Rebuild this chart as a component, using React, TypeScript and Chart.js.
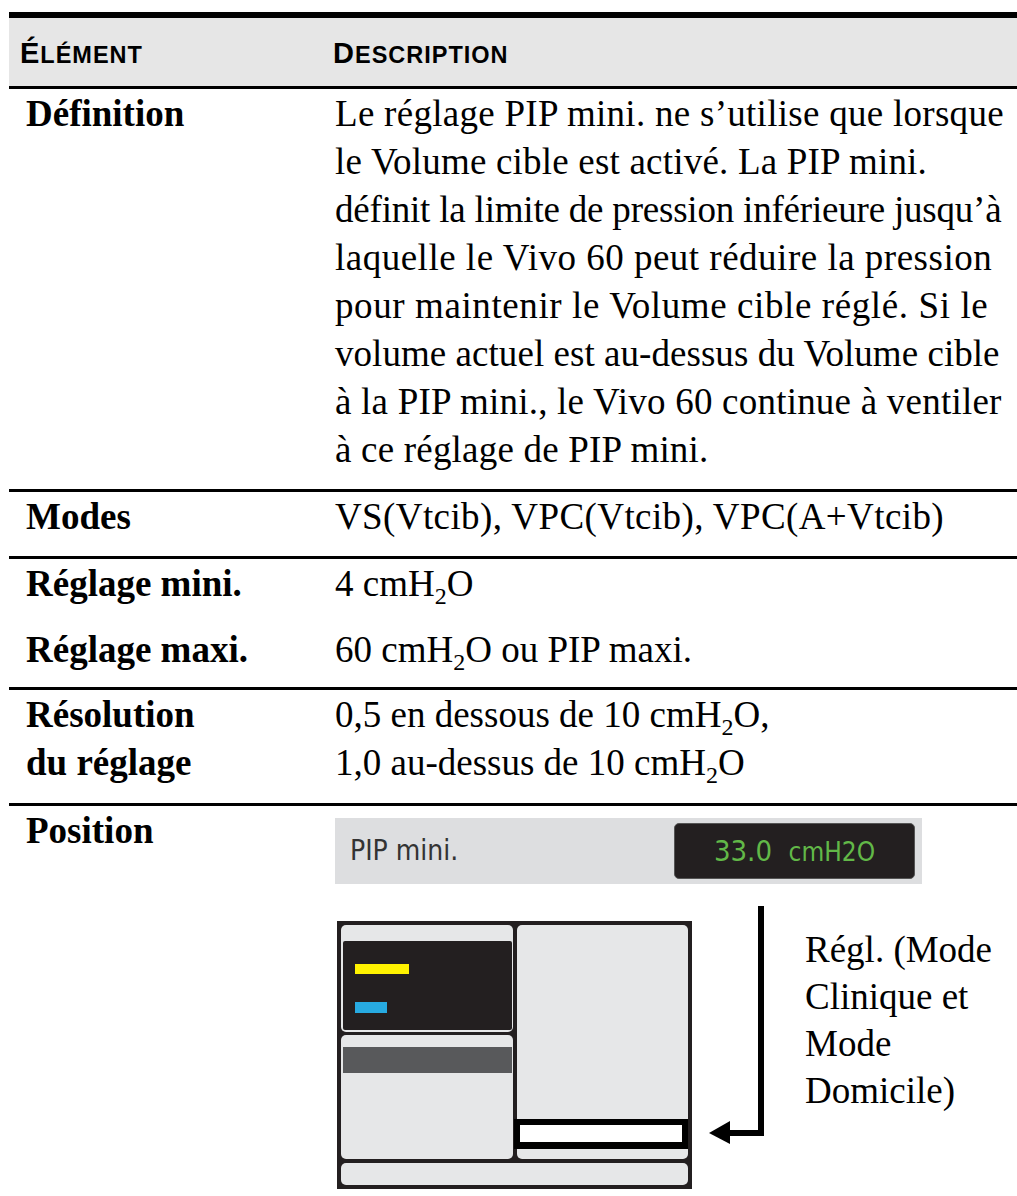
import React, { useEffect, useRef } from "react";
import { Chart, registerables } from "chart.js";

Chart.register(...registerables);

// ---------- content ----------
const headerWords = ["Élément", "Description"];
const rowLabels = ["Définition", "Modes", "Réglage mini.", "Réglage maxi.", "Résolution", "du réglage", "Position"];
const definitionLines = [
  "Le réglage PIP mini. ne s’utilise que lorsque",
  "le Volume cible est activé. La PIP mini.",
  "définit la limite de pression inférieure jusqu’à",
  "laquelle le Vivo 60 peut réduire la pression",
  "pour maintenir le Volume cible réglé. Si le",
  "volume actuel est au-dessus du Volume cible",
  "à la PIP mini., le Vivo 60 continue à ventiler",
  "à ce réglage de PIP mini.",
];
const modesText = "VS(Vtcib), VPC(Vtcib), VPC(A+Vtcib)";
const minSettingText = "4 cmH2O";
const maxSettingText = "60 cmH2O ou PIP maxi.";
const resolutionLines = ["0,5 en dessous de 10 cmH2O,", "1,0 au-dessus de 10 cmH2O"];
const positionLabel = "PIP mini.";
const positionValue = "33.0";
const positionUnit = "cmH2O";
const calloutLines = ["Régl. (Mode", "Clinique et", "Mode", "Domicile)"];

// ---------- screen mock-up geometry (diagram units) ----------
const DIAG_W = 450;
const DIAG_H = 296;
const frameRect = [7, 21, 362, 289];
const lightPanels = [
  [11, 25, 183, 132],
  [11, 135, 183, 259],
  [187, 25, 358, 259],
  [11, 263, 358, 285],
];
const darkInset = [13, 41, 182, 130];
const yellowBar = [25, 64, 79, 74];
const blueBar = [25, 102, 57, 113];
const greyBar = [13, 147, 182, 173];
const highlightOuter = [184, 219, 358, 249];
const highlightInner = [190, 225, 352, 242];
const arrowVertical = [428, 6, 434, 236];
const arrowHorizontal = [398, 230, 434, 236];
const arrowHead = [379, 233, 400, 221, 244];

const SERIF = '"Liberation Serif", "Times New Roman", serif';
const SANS = '"Liberation Sans", Arial, sans-serif';
const SCREEN_FONT = '"DejaVu Sans Condensed", "Liberation Sans Narrow", "DejaVu Sans", sans-serif';

function chem(s: string) {
  const parts = s.split("H2O");
  const out: any[] = [];
  parts.forEach((p, i) => {
    out.push(<React.Fragment key={"t" + i}>{p}</React.Fragment>);
    if (i < parts.length - 1) {
      out.push(
        <React.Fragment key={"c" + i}>
          H
          <span style={{ fontSize: 24, position: "relative", top: 8, lineHeight: 0 }}>2</span>O
        </React.Fragment>
      );
    }
  });
  return out;
}

function smallCaps(word: string) {
  return (
    <>
      <span style={{ fontSize: 29 }}>{word[0].toUpperCase()}</span>
      <span style={{ fontSize: 23.5 }}>{word.slice(1).toUpperCase()}</span>
    </>
  );
}

const Line = ({ y, h = 3 }: { y: number; h?: number }) => (
  <div style={{ position: "absolute", left: 9, right: 0, top: y, height: h, background: "#000" }} />
);

const TextBlock = ({ x, top, lines, bold = false, lh = 48, tracking = [] }: any) => (
  <div
    style={{
      position: "absolute",
      left: x,
      top,
      fontFamily: SERIF,
      fontSize: 37,
      lineHeight: lh + "px",
      fontWeight: bold ? 700 : 400,
      color: "#000",
    }}
  >
    {lines.map((l: string, i: number) => (
      <div key={i} style={{ whiteSpace: "nowrap", letterSpacing: tracking[i] || 0 }}>
        {chem(l)}
      </div>
    ))}
  </div>
);

function ScreenDiagram() {
  const ref = useRef<HTMLCanvasElement | null>(null);
  useEffect(() => {
    if (!ref.current) return;
    const drawPlugin = {
      id: "screenMock",
      afterDraw(chart: any) {
        const ctx = chart.ctx as CanvasRenderingContext2D;
        const xs = chart.scales.x;
        const ys = chart.scales.y;
        const px = (v: number) => xs.getPixelForValue(v);
        const py = (v: number) => ys.getPixelForValue(v);
        const rect = (r: number[], color: string, radius = 0) => {
          const x0 = px(r[0]);
          const y0 = py(r[1]);
          const w = px(r[2]) - x0;
          const h = py(r[3]) - y0;
          ctx.fillStyle = color;
          ctx.beginPath();
          if (radius > 0 && (ctx as any).roundRect) (ctx as any).roundRect(x0, y0, w, h, radius);
          else ctx.rect(x0, y0, w, h);
          ctx.fill();
        };
        ctx.save();
        rect(frameRect, "#231f20");
        lightPanels.forEach((p) => rect(p, "#e6e7e8", 5));
        rect(darkInset, "#231f20", 2);
        rect(yellowBar, "#fff200");
        rect(blueBar, "#27aae1");
        rect(greyBar, "#58595b");
        rect(highlightOuter, "#000000");
        rect(highlightInner, "#ffffff");
        rect(arrowVertical, "#000000");
        rect(arrowHorizontal, "#000000");
        ctx.fillStyle = "#000";
        ctx.beginPath();
        ctx.moveTo(px(arrowHead[0]), py(arrowHead[1]));
        ctx.lineTo(px(arrowHead[2]), py(arrowHead[3]));
        ctx.lineTo(px(arrowHead[2]), py(arrowHead[4]));
        ctx.closePath();
        ctx.fill();
        ctx.restore();
      },
    };
    const chart = new Chart(ref.current, {
      type: "scatter",
      data: { datasets: [] },
      options: {
        animation: false,
        responsive: false,
        maintainAspectRatio: false,
        events: [],
        layout: { padding: 0 },
        plugins: { legend: { display: false }, tooltip: { enabled: false }, title: { display: false } },
        scales: {
          x: { type: "linear", min: 0, max: DIAG_W, display: false },
          y: { type: "linear", min: 0, max: DIAG_H, reverse: true, display: false },
        },
      },
      plugins: [drawPlugin],
    } as any);
    return () => chart.destroy();
  }, []);
  return (
    <canvas
      ref={ref}
      width={DIAG_W}
      height={DIAG_H}
      style={{ position: "absolute", left: 330, top: 900, width: DIAG_W, height: DIAG_H }}
    />
  );
}

const headerStyle: any = {
  position: "absolute",
  top: 33,
  fontFamily: SANS,
  fontWeight: 700,
  lineHeight: "40px",
  color: "#000",
  whiteSpace: "nowrap",
  letterSpacing: 1,
};

export default function App() {
  return (
    <div
      style={{
        position: "absolute",
        left: 0,
        top: 0,
        width: 1017,
        height: 1196,
        background: "#fff",
        overflow: "hidden",
      }}
    >
      {/* header */}
      <div style={{ position: "absolute", left: 9, right: 0, top: 12, height: 6, background: "#000" }} />
      <div style={{ position: "absolute", left: 9, right: 0, top: 18, height: 68, background: "#e6e6e6" }} />
      <Line y={86} />
      <div style={{ ...headerStyle, left: 20 }}>{smallCaps(headerWords[0])}</div>
      <div style={{ ...headerStyle, left: 333 }}>{smallCaps(headerWords[1])}</div>

      {/* Définition */}
      <TextBlock x={26} top={89.5} lines={[rowLabels[0]]} bold />
      <TextBlock
        x={335}
        top={89.5}
        lines={definitionLines}
        tracking={[0.28, 0.2, -0.2, 0.5, 0.6, 0.05, 0.22, 0.2]}
      />
      <Line y={489} />

      {/* Modes */}
      <TextBlock x={26} top={492.5} lines={[rowLabels[1]]} bold />
      <TextBlock x={335} top={492.5} lines={[modesText]} tracking={[0.4]} />
      <Line y={556} />

      {/* Réglage mini / maxi */}
      <TextBlock x={26} top={559.5} lines={[rowLabels[2]]} bold />
      <TextBlock x={335} top={559.5} lines={[minSettingText]} />
      <TextBlock x={26} top={625.5} lines={[rowLabels[3]]} bold />
      <TextBlock x={335} top={625.5} lines={[maxSettingText]} />
      <Line y={687} />

      {/* Résolution */}
      <TextBlock x={26} top={690.5} lines={[rowLabels[4], rowLabels[5]]} bold />
      <TextBlock x={335} top={690.5} lines={resolutionLines} />
      <Line y={803} />

      {/* Position */}
      <TextBlock x={26} top={806.5} lines={[rowLabels[6]]} bold />
      <div
        style={{
          position: "absolute",
          left: 335,
          top: 818,
          width: 587,
          height: 66,
          background: "#dddee0",
        }}
      >
        <div
          style={{
            position: "absolute",
            left: 15,
            top: 0,
            lineHeight: "66px",
            fontFamily: SCREEN_FONT,
            fontSize: 28,
            color: "#333",
            whiteSpace: "nowrap",
          }}
        >
          {positionLabel}
        </div>
        <div
          style={{
            position: "absolute",
            left: 339,
            top: 5,
            width: 241,
            height: 56,
            background: "#231f20",
            borderRadius: 5,
            boxSizing: "border-box",
            border: "1px solid #555",
            color: "#62b848",
            fontFamily: SCREEN_FONT,
            fontSize: 29,
            lineHeight: "54px",
            textAlign: "center",
            whiteSpace: "pre",
          }}
        >
          {positionValue + "  "}
          <span style={{ fontSize: 26 }}>{positionUnit}</span>
        </div>
      </div>

      <ScreenDiagram />

      <TextBlock x={805} top={926} lines={calloutLines} lh={47} />
    </div>
  );
}
